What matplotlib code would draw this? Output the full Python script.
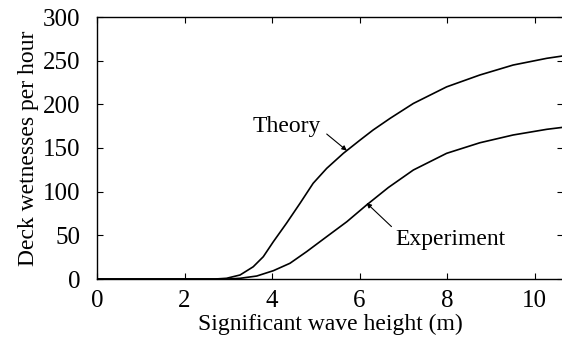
#!/usr/bin/env python3
"""Deck wetnesses per hour vs significant wave height (theory / experiment)."""

import matplotlib

matplotlib.use("Agg")
import matplotlib.pyplot as plt

plt.rcParams["font.family"] = ["Liberation Serif", "DejaVu Serif"]

# Theory curve
theory_x = [0, 2.7, 2.96, 3.27, 3.57, 3.80, 4.03, 4.33, 4.64, 4.94, 5.25,
            5.63, 6.01, 6.31, 6.70, 7.23, 7.99, 8.75, 9.51, 10.28, 10.7]
theory_y = [0, 0, 0.8, 4.6, 14, 25.5, 42.7, 63.8, 86.7, 109.6, 126.7,
            143.9, 159, 170.6, 184, 201, 220, 233.6, 245, 252.7, 255.8]

# Experiment curve
experiment_x = [0, 3.0, 3.27, 3.65, 4.03, 4.41, 4.79, 5.25, 5.71, 6.16,
                6.66, 7.23, 7.99, 8.75, 9.51, 10.28, 10.7]
experiment_y = [0, 0, 0.8, 3.4, 9.5, 18, 31.3, 48.5, 65.6, 84.7,
                104.8, 124.8, 143.9, 156, 164.9, 171.4, 174]

x_ticks = [0, 2, 4, 6, 8, 10]
y_ticks = [0, 50, 100, 150, 200, 250, 300]

fig = plt.figure(figsize=(5.62, 3.37), dpi=100)
ax = fig.add_axes([97 / 562, 1 - 279 / 337, (563 - 97) / 562, (279 - 17) / 337])

ax.plot(theory_x, theory_y, color="black", linewidth=1.2)
ax.plot(experiment_x, experiment_y, color="black", linewidth=1.2)

# ラベルと矢印
arrow = dict(arrowstyle="-|>", color="black", lw=0.8, mutation_scale=7,
             shrinkA=0, shrinkB=0)
ax.text(5.12, 168, "Theory", fontsize=17, ha="right", va="baseline")
ax.annotate("", xy=(5.71, 147), xytext=(5.25, 166), arrowprops=arrow)
ax.text(6.83, 39, "Experiment", fontsize=17, ha="left", va="baseline")
ax.annotate("", xy=(6.16, 87), xytext=(6.73, 60), arrowprops=arrow)

ax.set_xlim(0, 10.65)
ax.set_ylim(0, 300)
ax.set_xticks(x_ticks)
ax.set_yticks(y_ticks)
ax.tick_params(direction="in", length=4, width=0.8, top=True, right=True,
               labelsize=18)
ax.tick_params(axis="x", pad=8)
ax.tick_params(axis="y", pad=12)
for spine in ax.spines.values():
    spine.set_linewidth(1.0)

ax.set_xlabel("Significant wave height (m)", fontsize=17, labelpad=1)
ax.set_ylabel("Deck wetnesses per hour", fontsize=17, labelpad=3)

fig.savefig("out.png", dpi=100)
